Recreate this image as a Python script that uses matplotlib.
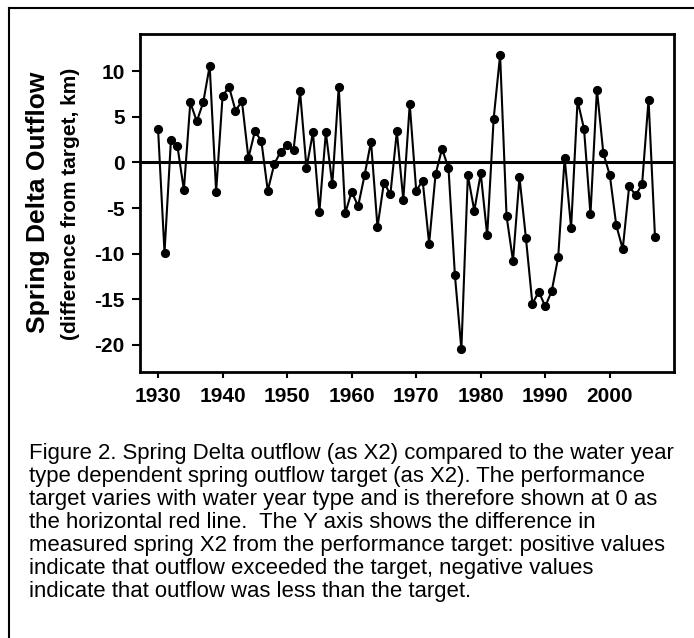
import matplotlib
matplotlib.use("Agg")
from matplotlib import pyplot as plt
import matplotlib.lines as mlines

plt.rcParams["font.family"] = ["Liberation Sans", "DejaVu Sans"]
plt.rcParams["axes.unicode_minus"] = False

# spring X2 minus the water-year-type target, one value per year
years = list(range(1930, 2008))
diff_km = [
    3.7, -9.9, 2.5, 1.8, -3.0, 6.6, 4.5, 6.6, 10.6, -3.2,   # 1930s
    7.3, 8.3, 5.7, 6.7, 0.5, 3.4, 2.4, -3.1, -0.2, 1.2,     # 1940s
    1.9, 1.4, 7.8, -0.6, 3.3, -5.4, 3.3, -2.4, 8.3, -5.6,   # 1950s
    -3.2, -4.8, -1.4, 2.3, -7.1, -2.2, -3.5, 3.4, -4.1, 6.4,  # 1960s
    -3.1, -2.0, -8.9, -1.3, 1.5, -0.6, -12.4, -20.5, -1.4, -5.3,  # 1970s
    -1.2, -8.0, 4.8, 11.8, -5.9, -10.8, -1.6, -8.3, -15.5, -14.2,  # 1980s
    -15.8, -14.1, -10.4, 0.5, -7.2, 6.8, 3.7, -5.7, 8.0, 1.0,  # 1990s
    -1.4, -6.9, -9.5, -2.6, -3.6, -2.4, 6.9, -8.2,  # 2000s
]
xtick_years = [1930, 1940, 1950, 1960, 1970, 1980, 1990, 2000]
ytick_vals = [10, 5, 0, -5, -10, -15, -20]

caption = (
    "Figure 2. Spring Delta outflow (as X2) compared to the water year\n"
    "type dependent spring outflow target (as X2). The performance\n"
    "target varies with water year type and is therefore shown at 0 as\n"
    "the horizontal red line.  The Y axis shows the difference in\n"
    "measured spring X2 from the performance target: positive values\n"
    "indicate that outflow exceeded the target, negative values\n"
    "indicate that outflow was less than the target."
)

fig = plt.figure(figsize=(6.94, 6.38), dpi=100)
ax = fig.add_axes([0.2017, 0.4169, 0.7700, 0.5298])

ax.axhline(0, color="black", linewidth=2.2, zorder=1)
ax.plot(years, diff_km, color="black", linewidth=1.5, marker="o",
        markersize=5.6, markerfacecolor="black", zorder=2)

ax.set_xlim(1927.2, 2010.0)
ax.set_ylim(-23.0, 14.1)
ax.set_xticks(xtick_years)
ax.set_yticks(ytick_vals)

ax.tick_params(axis="both", direction="out", width=1.5, labelsize=15)
ax.tick_params(axis="x", length=4, pad=7)
ax.tick_params(axis="y", length=6, pad=5)
for lab in ax.get_xticklabels() + ax.get_yticklabels():
    lab.set_fontweight("bold")
for sp in ax.spines.values():
    sp.set_linewidth(2.0)

fig.text(0.055, 0.683, "Spring Delta Outflow", rotation=90, fontsize=19,
         fontweight="bold", ha="center", va="center")
fig.text(0.102, 0.680, "(difference from target, km)", rotation=90,
         fontsize=15, fontweight="bold", ha="center", va="center")

fig.text(0.042, 0.306, caption, fontsize=15.9, ha="left", va="top",
         linespacing=1.13)

# page frame on the left and top edges
fig.add_artist(mlines.Line2D([0.013, 0.013], [0.0, 0.988],
                             transform=fig.transFigure, color="black", linewidth=1.5))
fig.add_artist(mlines.Line2D([0.013, 1.0], [0.988, 0.988],
                             transform=fig.transFigure, color="black", linewidth=1.5))

fig.savefig("out.png", dpi=100, facecolor="white")
